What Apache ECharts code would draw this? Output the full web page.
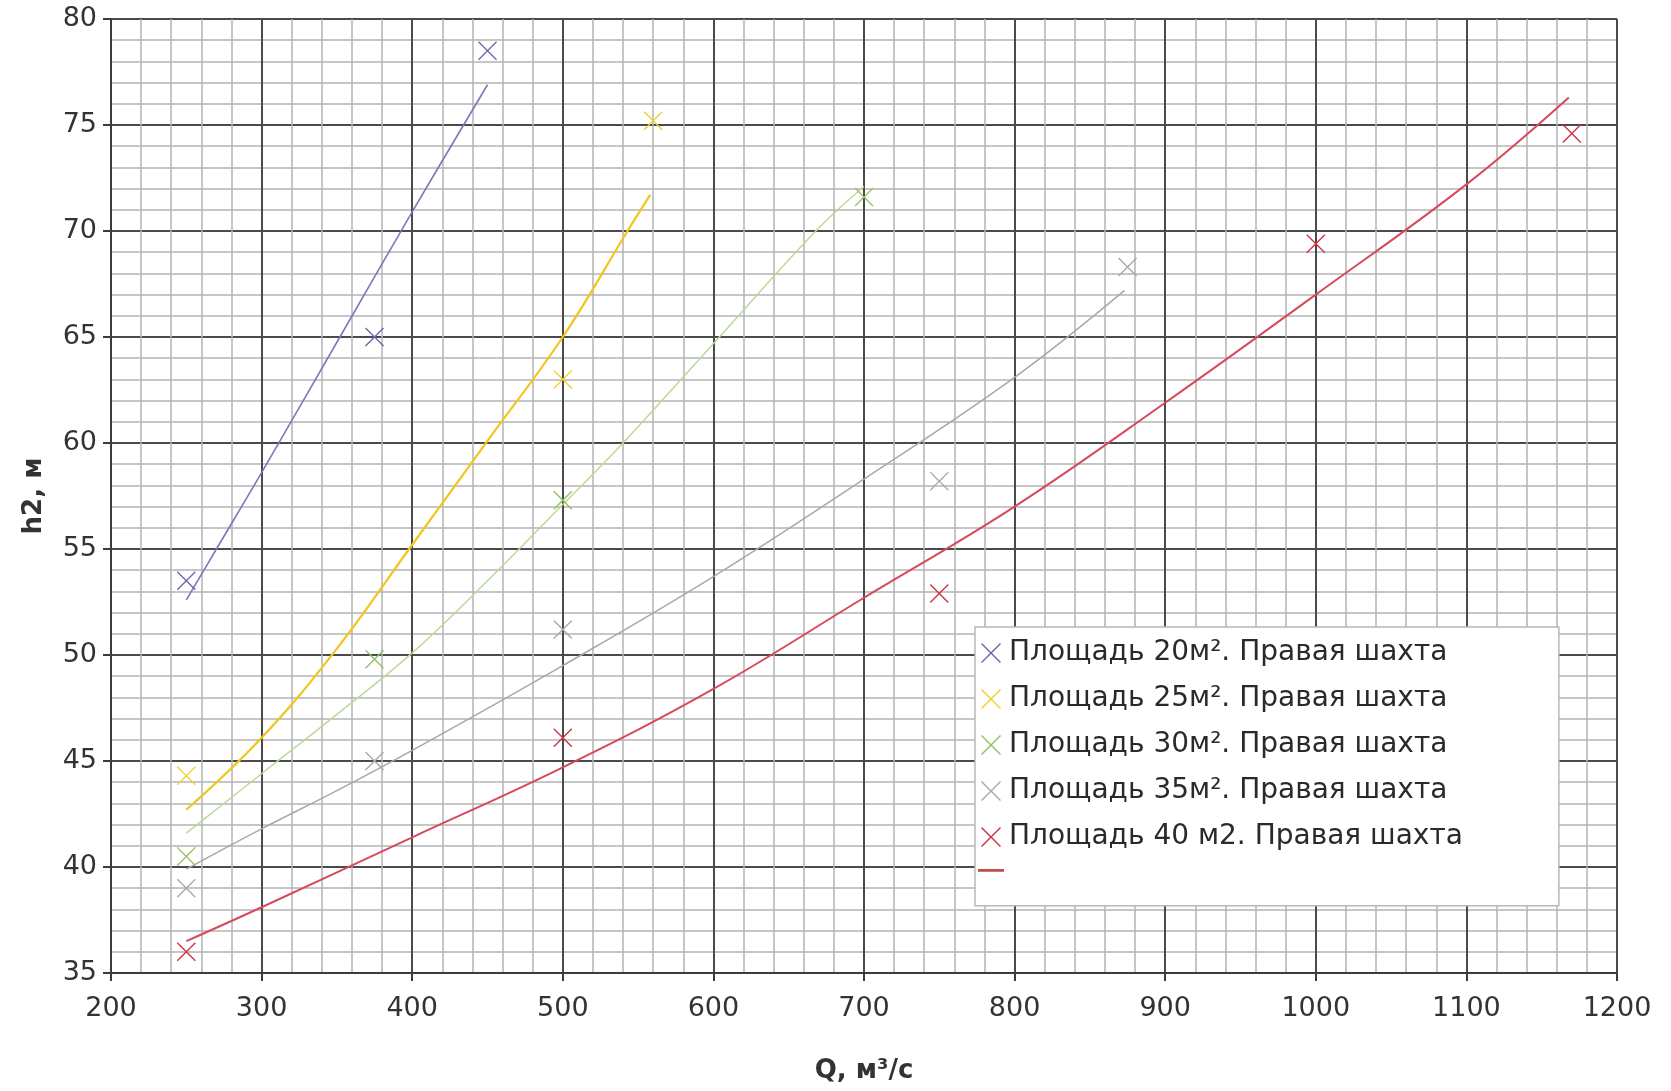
<!DOCTYPE html>
<html>
<head>
<meta charset="utf-8">
<script src="https://cdn.jsdelivr.net/npm/echarts@6/dist/echarts.min.js"></script>
<style>
html,body{margin:0;padding:0;background:#fff;}
#chart{width:1671px;height:1091px;}
</style>
</head>
<body>
<div id="chart"></div>
<script>
// ---- data ----
var seriesNames = [
  'Площадь 20м². Правая шахта',
  'Площадь 25м². Правая шахта',
  'Площадь 30м². Правая шахта',
  'Площадь 35м². Правая шахта',
  'Площадь 40 м2. Правая шахта'
];
// measured points [Q, h2]
var pts20 = [[250,53.5],[375,65.0],[450,78.5]];
var pts25 = [[250,44.3],[500,63.0],[560,75.2]];
var pts30 = [[250,40.5],[375,49.8],[500,57.3],[700,71.6]];
var pts35 = [[250,39.0],[375,45.0],[500,51.2],[750,58.2],[875,68.3]];
var pts40 = [[250,36.0],[500,46.1],[750,52.9],[1000,69.4],[1170,74.6]];
// trend lines
var trend20 = [[250,52.6],[270,55.0],[300,58.6],[352,65.0],[400,70.9],[450,76.9]];
var trend25 = [[250,42.7],[300,46.1],[350,50.3],[400,55.2],[450,60.1],[500,65.0],[543,70.0],[558,71.7]];
var trend30 = [[250,41.6],[300,44.4],[350,47.2],[400,50.1],[450,53.5],[500,57.1],[540,60.0],[604,65.0],[668,70.0],[700,72.1]];
var trend35 = [[250,39.9],[300,41.8],[350,43.6],[400,45.5],[500,49.5],[600,53.7],[700,58.3],[800,63.1],[873,67.2]];
var trend40 = [[250,36.5],[300,38.1],[400,41.4],[500,44.7],[600,48.4],[700,52.7],[800,57.0],[900,61.9],[1000,67.0],[1100,72.2],[1168,76.3]];

var xMin = 200, xMax = 1200, xStep = 100;
var yMin = 35, yMax = 80, yStep = 5;

// ---- styling ----
var markerColors = ['#7464ad','#f0d02a','#94c064','#a9a9a9','#cc3445'];
var lineColors   = ['#8174bd','#f2c61c','#bcd99c','#a8a8a8','#d64a5c'];
var lineWidths   = [1.6, 2.2, 1.5, 1.5, 2];
var xSym = 'path://M0,1L1,0L10,9L19,0L20,1L11,10L20,19L19,20L10,11L1,20L0,19L9,10Z';
var dashIcon = 'path://M0,0h28v3h-28z';

var ptsAll = [pts20, pts25, pts30, pts35, pts40];
var trendAll = [trend20, trend25, trend30, trend35, trend40];
var trendNames = ['trend20','trend25','trend30','trend35','trend40'];

var series = [];
for (var i = 0; i < 5; i++) {
  series.push({
    name: trendNames[i], type: 'line', data: trendAll[i], smooth: 0.4,
    showSymbol: false, symbol: 'none', silent: true,
    lineStyle: { color: lineColors[i], width: lineWidths[i] },
    itemStyle: { color: i === 4 ? '#c0504d' : lineColors[i] },
    z: 3
  });
}
for (var j = 0; j < 5; j++) {
  series.push({
    name: seriesNames[j], type: 'scatter', data: ptsAll[j],
    symbol: xSym, symbolSize: 19,
    itemStyle: { color: markerColors[j], opacity: 1 },
    z: 4
  });
}

var legendData = seriesNames.map(function (n, k) {
  return { name: n, icon: xSym, itemStyle: { color: markerColors[k] } };
});
legendData.push({ name: 'trend40', icon: dashIcon, itemStyle: { color: '#c0504d' }, lineStyle: { width: 0, color: '#c0504d' } });

var axisFont = { fontFamily: 'DejaVu Sans', fontSize: 27, color: '#333' };

var chart = echarts.init(document.getElementById('chart'), null, { renderer: 'canvas' });
chart.setOption({
  animation: false,
  backgroundColor: '#ffffff',
  grid: { left: 111, right: 54, top: 19, bottom: 118, containLabel: false },
  legend: {
    orient: 'vertical', left: 975, top: 627,
    padding: [12, 96, 34, 3],
    backgroundColor: '#ffffff', borderColor: '#b8b8b8', borderWidth: 1.5,
    itemWidth: 26, itemHeight: 20, itemGap: 18,
    selectedMode: false,
    symbolKeepAspect: true,
    data: legendData,
    formatter: function (name) { return name.indexOf('trend') === 0 ? '' : name; },
    textStyle: { fontFamily: 'DejaVu Sans', fontSize: 28, lineHeight: 27, color: '#2a2a2a' }
  },
  xAxis: {
    type: 'value', min: xMin, max: xMax, interval: xStep,
    name: 'Q, м³/с', nameLocation: 'middle', nameGap: 85,
    nameTextStyle: { fontFamily: 'DejaVu Sans', fontSize: 26, fontWeight: 'bold', color: '#333' },
    axisLine: { show: true, lineStyle: { color: '#3c3c3c', width: 2 } },
    axisTick: { show: true, inside: false, length: 8, lineStyle: { color: '#3c3c3c', width: 2 } },
    axisLabel: Object.assign({ margin: 22, formatter: function (v) { return String(v); } }, axisFont),
    splitLine: { show: true, lineStyle: { color: '#4a4a4a', width: 2 } },
    minorTick: { show: false, splitNumber: 5 },
    minorSplitLine: { show: true, lineStyle: { color: '#b4b4b4', width: 1.5 } }
  },
  yAxis: {
    type: 'value', min: yMin, max: yMax, interval: yStep,
    name: 'h2, м', nameLocation: 'middle', nameGap: 64, nameRotate: 90,
    nameTextStyle: { fontFamily: 'DejaVu Sans', fontSize: 26, fontWeight: 'bold', color: '#333' },
    axisLine: { show: true, lineStyle: { color: '#3c3c3c', width: 2 } },
    axisTick: { show: true, inside: false, length: 8, lineStyle: { color: '#3c3c3c', width: 2 } },
    axisLabel: Object.assign({ margin: 14, formatter: function (v) { return String(v); } }, axisFont),
    splitLine: { show: true, lineStyle: { color: '#4a4a4a', width: 2 } },
    minorTick: { show: false, splitNumber: 5 },
    minorSplitLine: { show: true, lineStyle: { color: '#b4b4b4', width: 1.5 } }
  },
  series: series
});
</script>
</body>
</html>
